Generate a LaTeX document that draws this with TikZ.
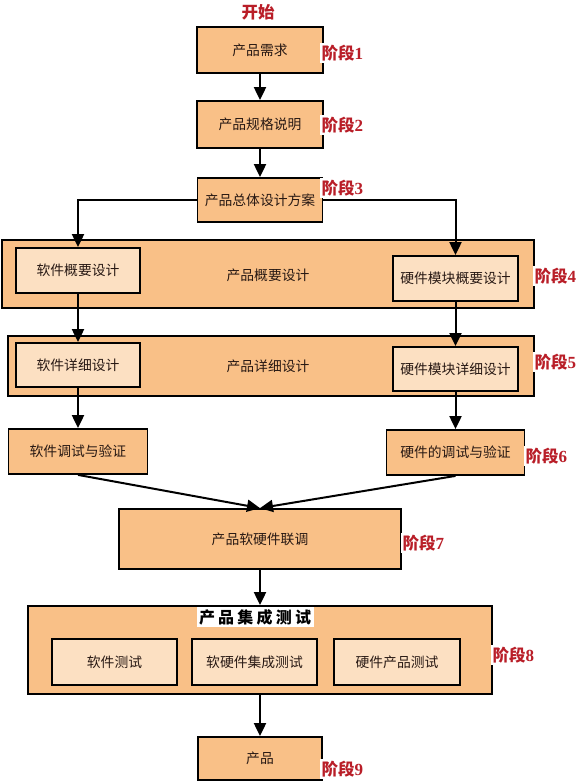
\documentclass[tikz,border=0pt]{standalone}
\usepackage{fontspec}
\newfontfamily\cjk{Noto Sans CJK SC}
\newfontfamily\cjkwide[LetterSpace=20]{Noto Sans CJK SC}
\newfontfamily\digitfont{Liberation Serif}
\usetikzlibrary{arrows.meta}
\definecolor{boxfill}{RGB}{249,192,135}
\definecolor{innerfill}{RGB}{252,224,194}
\definecolor{stagered}{RGB}{185,30,40}
\definecolor{txt}{RGB}{40,25,20}
\newcommand{\stagelab}[1]{阶段{\digitfont\bfseries\fontsize{17}{19}\selectfont #1}}
\begin{document}
\begin{tikzpicture}[x=1pt,y=-1pt,
  box/.style={draw=black, line width=1.8pt, fill=boxfill, inner sep=0pt, text=txt,
    font=\cjk\fontsize{13.8}{16}\selectfont},
  inbox/.style={box, fill=innerfill},
  plain/.style={inner sep=0pt, text=txt, font=\cjk\fontsize{13.8}{16}\selectfont},
  stagelabel/.style={fill=white, inner sep=1.5pt, anchor=west, text=stagered,
    font=\cjk\bfseries\fontsize{16.5}{19}\selectfont},
  arr/.style={line width=2pt, -{Triangle[length=13pt,width=12pt]}}
]
\useasboundingbox[fill=white] (0,0) rectangle (587,782);

% start
\node[text=stagered, font=\cjk\bfseries\fontsize{16.5}{19}\selectfont] (start) at (258,12) {开始};

% stage 1-3
\node[box, minimum width=126pt, minimum height=46pt] (b1) at (260,50) {产品需求};
\node[box, minimum width=126pt, minimum height=47pt] (b2) at (260,124.5) {产品规格说明};
\node[box, minimum width=125pt, minimum height=44pt] (b3) at (260,200) {产品总体设计方案};

% stage 4
\node[box, minimum width=532pt, minimum height=68pt] (b4) at (268,274) {};
\node[plain] (t4) at (268,275) {产品概要设计};
\node[inbox, minimum width=124pt, minimum height=45pt] (i4l) at (78,270.5) {软件概要设计};
\node[inbox, minimum width=125pt, minimum height=45pt] (i4r) at (455.5,278.5) {硬件模块概要设计};

% stage 5
\node[box, minimum width=526pt, minimum height=60pt] (b5) at (271,366) {};
\node[plain] (t5) at (268,366) {产品详细设计};
\node[inbox, minimum width=124pt, minimum height=44pt] (i5l) at (78,365) {软件详细设计};
\node[inbox, minimum width=125pt, minimum height=44pt] (i5r) at (455.5,369) {硬件模块详细设计};

% stage 6
\node[box, minimum width=139pt, minimum height=45pt] (b6l) at (78,451.5) {软件调试与验证};
\node[box, minimum width=138pt, minimum height=45pt] (b6r) at (455.5,452.5) {硬件的调试与验证};

% stage 7
\node[box, minimum width=282pt, minimum height=60pt] (b7) at (260,539) {产品软硬件联调};

% stage 8
\node[box, minimum width=464pt, minimum height=88pt] (b8) at (260,650) {};
\node[fill=white, inner sep=2.5pt, text=black, font=\cjkwide\bfseries\fontsize{16}{18}\selectfont] (t8) at (255,617) {产品集成测试};
\node[inbox, minimum width=125pt, minimum height=46pt] (i8a) at (114.5,662) {软件测试};
\node[inbox, minimum width=125pt, minimum height=46pt] (i8b) at (254.5,662) {软硬件集成测试};
\node[inbox, minimum width=126pt, minimum height=46pt] (i8c) at (397,662) {硬件产品测试};

% stage 9
\node[box, minimum width=124pt, minimum height=43pt] (b9) at (260,758.5) {产品};

% stage labels
\node[stagelabel] (s1) at (320,53) {\stagelab{1}};
\node[stagelabel] (s2) at (320,125) {\stagelab{2}};
\node[stagelabel] (s3) at (320,188) {\stagelab{3}};
\node[stagelabel] (s4) at (533,276) {\stagelab{4}};
\node[stagelabel] (s5) at (533,362) {\stagelab{5}};
\node[stagelabel] (s6) at (524,456) {\stagelab{6}};
\node[stagelabel] (s7) at (401,543) {\stagelab{7}};
\node[stagelabel] (s8) at (491,655) {\stagelab{8}};
\node[stagelabel] (s9) at (320,769) {\stagelab{9}};

% connectors
\draw[arr] (b1.south) -- (b2.north);
\draw[arr] (b2.south) -- (b3.north);
\draw[arr] (b3.west) -| (i4l.north);
\draw[arr] (b3.east) -| (i4r.north);
\draw[arr] (i4l.south) -- (i5l.north);
\draw[arr] (i4r.south) -- (i5r.north);
\draw[arr] (i5l.south) -- (b6l.north);
\draw[arr] (i5r.south) -- (b6r.north);
\draw[arr] (b6l.south) -- (b7.north);
\draw[arr] (b6r.south) -- (b7.north);
\draw[arr] (b7.south) -- (b8.north);
\draw[arr] (b8.south) -- (b9.north);
\end{tikzpicture}
\end{document}
